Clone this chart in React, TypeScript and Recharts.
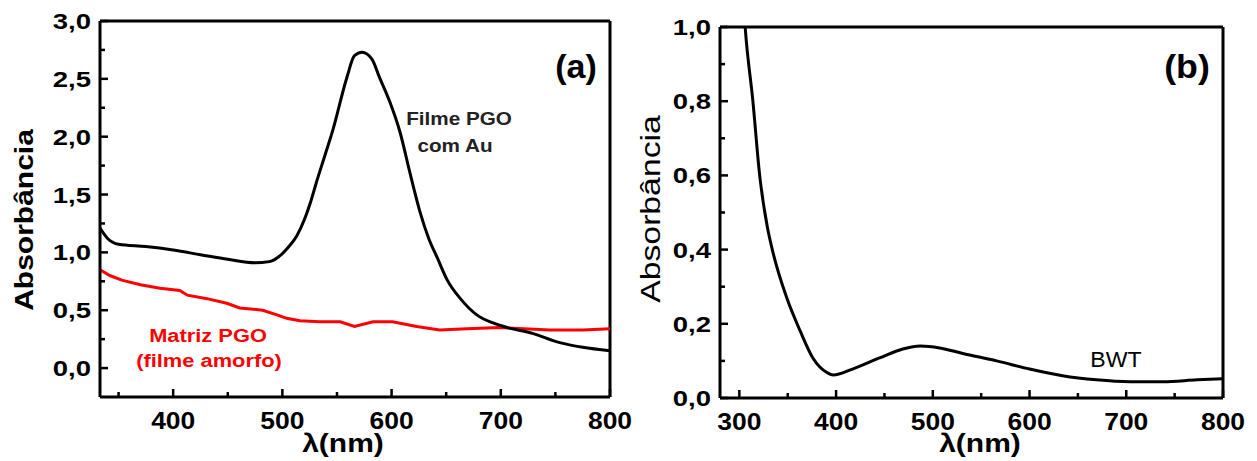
import React from "react";
import { LineChart, Line, XAxis, YAxis, ReferenceLine } from "recharts";

// panel (a): PGO film with Au nanoparticles (black) and bare PGO matrix (red)
const auFilmNm = [333, 340, 350, 375, 400, 425, 450, 475, 488, 500, 505, 513, 520, 526, 531, 539, 546, 559, 566, 573, 582, 589, 598, 608, 617, 626, 634, 642, 651, 663, 678, 693, 706, 729, 754, 775, 800];
const auFilmAbs = [1.21, 1.12, 1.07, 1.05, 1.02, 0.98, 0.94, 0.91, 0.92, 0.99, 1.04, 1.14, 1.28, 1.44, 1.6, 1.84, 2.05, 2.51, 2.7, 2.73, 2.67, 2.51, 2.31, 2.03, 1.68, 1.35, 1.12, 0.95, 0.76, 0.6, 0.46, 0.39, 0.35, 0.3, 0.22, 0.18, 0.15];

const matrixNm = [333, 342, 353, 370, 388, 406, 413, 431, 449, 461, 482, 495, 504, 516, 534, 553, 566, 583, 601, 623, 644, 669, 699, 745, 775, 800];
const matrixAbs = [0.85, 0.8, 0.76, 0.72, 0.69, 0.67, 0.63, 0.6, 0.56, 0.52, 0.5, 0.46, 0.43, 0.41, 0.4, 0.4, 0.36, 0.4, 0.4, 0.36, 0.33, 0.34, 0.35, 0.33, 0.33, 0.34];

// panel (b): BWT
const bwtNm = [303, 306, 314, 321, 329, 335, 349, 363, 376, 391, 397, 417, 445, 469, 487, 507, 531, 566, 600, 634, 669, 704, 738, 773, 800];
const bwtAbs = [1.12, 1.0, 0.8, 0.6, 0.46, 0.39, 0.27, 0.18, 0.108, 0.068, 0.062, 0.078, 0.108, 0.132, 0.14, 0.135, 0.12, 0.1, 0.078, 0.06, 0.049, 0.044, 0.044, 0.049, 0.052];

const xTicksA = [350, 400, 450, 500, 550, 600, 650, 700, 750, 800];
const yTicksA = [0, 0.25, 0.5, 0.75, 1, 1.25, 1.5, 1.75, 2, 2.25, 2.5, 2.75, 3];
const xTicksB = [300, 350, 400, 450, 500, 550, 600, 650, 700, 750, 800];
const yTicksB = [0, 0.1, 0.2, 0.3, 0.4, 0.5, 0.6, 0.7, 0.8, 0.9, 1];

const auFilmData = auFilmNm.map((x, i) => ({ x, abs: auFilmAbs[i] }));
const matrixData = matrixNm.map((x, i) => ({ x, abs: matrixAbs[i] }));
const bwtData = bwtNm.map((x, i) => ({ x, abs: bwtAbs[i] }));

const FONT = "'Liberation Sans', Arial, Helvetica, sans-serif";
const M = 10; // tick margin, used to get the axis line back in custom ticks

function STxt({ x, y, size, children, weight = "bold", sx = 1.15, fill = "#000", anchor = "middle", rotate = 0 }: any) {
  const rot = rotate ? ` rotate(${rotate})` : "";
  return (
    <text
      transform={`translate(${x},${y})${rot} scale(${sx},1)`}
      textAnchor={anchor}
      fontSize={size}
      fontWeight={weight}
      fill={fill}
      fontFamily={FONT}
    >
      {children}
    </text>
  );
}

const isMajor = (v: number, step: number) => Math.abs(v / step - Math.round(v / step)) < 1e-6;

// ticks point into the plot, minor ones are shorter and unlabeled
const yTick = (step: number) => (props: any) => {
  const { x, y, payload } = props;
  const ax = x + M;
  const v = payload.value;
  const major = isMajor(v, step);
  return (
    <g>
      <line x1={ax} x2={ax + (major ? 8 : 5)} y1={y} y2={y} stroke="#000" strokeWidth={2.5} />
      {major && (
        <STxt x={ax - 9} y={y + 8} size={22} sx={1.25} anchor="end">
          {v.toFixed(1).replace(".", ",")}
        </STxt>
      )}
    </g>
  );
};

const xTick = (props: any) => {
  const { x, y, payload } = props;
  const ay = y - M;
  const v = payload.value;
  const major = isMajor(v, 100);
  return (
    <g>
      <line x1={x} x2={x} y1={ay} y2={ay - (major ? 8 : 5)} stroke="#000" strokeWidth={2.5} />
      {major && (
        <STxt x={x} y={ay + 32} size={23} sx={1.15}>
          {String(v)}
        </STxt>
      )}
    </g>
  );
};

function PanelA() {
  return (
    <LineChart width={650} height={461} margin={{ top: 21, right: 40, bottom: 63, left: 99 }}>
      <XAxis
        type="number"
        dataKey="x"
        domain={[333, 800]}
        allowDataOverflow
        ticks={xTicksA}
        interval={0}
        height={1}
        tickSize={0}
        tickMargin={M}
        tick={xTick}
        axisLine={{ stroke: "#000", strokeWidth: 3 }}
      />
      <YAxis
        type="number"
        domain={[-0.25, 3]}
        allowDataOverflow
        ticks={yTicksA}
        interval={0}
        width={1}
        tickSize={0}
        tickMargin={M}
        tick={yTick(0.5)}
        axisLine={{ stroke: "#000", strokeWidth: 3 }}
      />
      <ReferenceLine y={3} stroke="#000" strokeWidth={3} />
      <ReferenceLine x={800} stroke="#000" strokeWidth={3} />
      <Line data={matrixData} dataKey="abs" type="linear" stroke="#ff0000" strokeWidth={3} dot={false} isAnimationActive={false} />
      <Line data={auFilmData} dataKey="abs" type="monotone" stroke="#000" strokeWidth={3} dot={false} isAnimationActive={false} />
      <STxt x={33} y={220} size={25} sx={1.2} rotate={-90}>Absorbância</STxt>
      <STxt x={343} y={452} size={25} sx={1.2}>λ(nm)</STxt>
      <STxt x={576} y={78} size={34} sx={1}>(a)</STxt>
      <STxt x={459} y={125} size={18} sx={1.15} fill="#222">Filme PGO</STxt>
      <STxt x={455} y={152} size={18} sx={1.15} fill="#222">com Au</STxt>
      <STxt x={208} y={342} size={19} sx={1.15} fill="#ff0000">Matriz PGO</STxt>
      <STxt x={209} y={367} size={19} sx={1.15} fill="#ff0000">(filme amorfo)</STxt>
    </LineChart>
  );
}

function PanelB() {
  return (
    <LineChart width={632} height={461} margin={{ top: 27, right: 34, bottom: 62, left: 94 }}>
      <XAxis
        type="number"
        dataKey="x"
        domain={[280, 800]}
        allowDataOverflow
        ticks={xTicksB}
        interval={0}
        height={1}
        tickSize={0}
        tickMargin={M}
        tick={xTick}
        axisLine={{ stroke: "#000", strokeWidth: 3 }}
      />
      <YAxis
        type="number"
        domain={[0, 1]}
        allowDataOverflow
        ticks={yTicksB}
        interval={0}
        width={1}
        tickSize={0}
        tickMargin={M}
        tick={yTick(0.2)}
        axisLine={{ stroke: "#000", strokeWidth: 3 }}
      />
      <ReferenceLine y={1} stroke="#000" strokeWidth={3} />
      <ReferenceLine x={800} stroke="#000" strokeWidth={3} />
      <Line data={bwtData} dataKey="abs" type="monotone" stroke="#000" strokeWidth={3} dot={false} isAnimationActive={false} />
      <STxt x={35} y={209} size={27} weight="normal" sx={1.25} rotate={-90}>Absorbância</STxt>
      <STxt x={355} y={452} size={25} sx={1.2}>λ(nm)</STxt>
      <STxt x={562} y={78} size={34} sx={1.05}>(b)</STxt>
      <STxt x={491} y={367} size={22} weight="normal" sx={1.05}>BWT</STxt>
    </LineChart>
  );
}

export default function App() {
  return (
    <div style={{ position: "absolute", left: 0, top: 0, width: 1257, height: 461, background: "#fff" }}>
      <div style={{ position: "absolute", left: 0, top: 0 }}>
        <PanelA />
      </div>
      <div style={{ position: "absolute", left: 625, top: 0 }}>
        <PanelB />
      </div>
    </div>
  );
}
